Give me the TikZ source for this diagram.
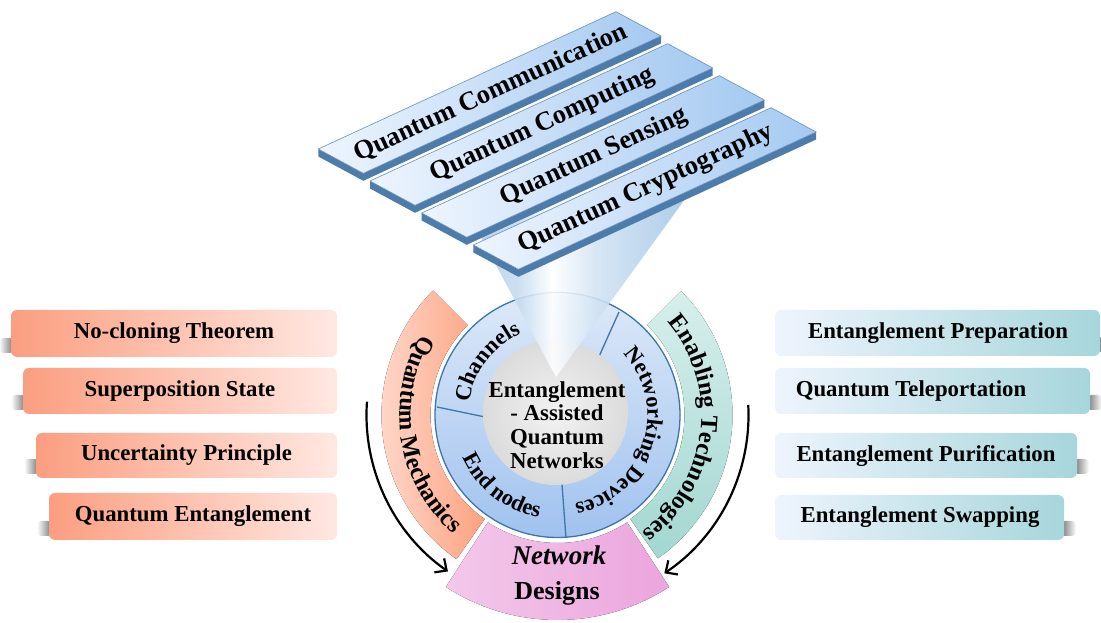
\documentclass[tikz,border=0pt]{standalone}
\usepackage{fontspec}
\setmainfont{Liberation Serif}
\usetikzlibrary{arrows.meta,decorations.text,fadings}
\definecolor{ringTop}{HTML}{DDE9F8}
\definecolor{ringBot}{HTML}{A0C2EF}
\definecolor{ringLine}{HTML}{3E76AC}
\definecolor{orL}{HTML}{FFD8CB}
\definecolor{orR}{HTML}{FCA27F}
\definecolor{grT}{HTML}{D6EFEC}
\definecolor{grB}{HTML}{A3D7D1}
\definecolor{pkL}{HTML}{F3C8EA}
\definecolor{pkR}{HTML}{EBA5DD}
\definecolor{lbL}{HTML}{FB9E80}
\definecolor{lbR}{HTML}{FFE8E2}
\definecolor{rbL}{HTML}{EEF4FD}
\definecolor{rbR}{HTML}{A6D6DB}
\definecolor{barL}{HTML}{EEF5FE}
\definecolor{barR}{HTML}{A4C9F1}
\definecolor{barSide}{HTML}{4D7BAA}
\definecolor{barLine}{HTML}{6891BD}
\definecolor{coneB}{HTML}{A2C5E6}
\pgfdeclarehorizontalshading{coneshade}{100bp}{color(0bp)=(coneB); color(25bp)=(coneB); color(38bp)=(coneB!60); color(45bp)=(white); color(55bp)=(coneB!50); color(75bp)=(coneB); color(100bp)=(coneB)}
\newcommand\boxfnt{\fontsize{22.8}{24}\selectfont\bfseries}
\newcommand\barfnt{\fontsize{26.5}{28}\selectfont\bfseries}
\newcommand\ringfnt{\fontsize{22.5}{24}\selectfont\bfseries}
\newcommand\segfnt{\fontsize{24.5}{26}\selectfont\bfseries}
\newcommand\pinkfnt{\fontsize{26}{28}\selectfont\bfseries}
\newcommand\corefnt{\fontsize{22.8}{23.8}\selectfont\bfseries}
\begin{document}
\begin{tikzpicture}[x=1pt,y=1pt,
  lbox/.style={rounded corners=6pt, left color=lbL, right color=lbR, inner sep=0pt},
  rbox/.style={rounded corners=6pt, left color=rbL, right color=rbR, inner sep=0pt},
  lshadow/.style={black, opacity=.55, path fading=west, rounded corners=4pt},
  rshadow/.style={black, opacity=.55, path fading=east, rounded corners=4pt},
  boxtext/.style={font=\boxfnt, inner sep=0pt},
  turnarrow/.style={line width=2.2pt, -{Straight Barb[length=9pt,width=17pt]}},
  arctext/.style={decorate, decoration={text along path, text align=center, text={#1}}}
]
\useasboundingbox (0,0) rectangle (1101,623);

% outer segments and arrows
\begin{scope}[shift={(557.5,208)}]
  \fill[left color=orL, right color=orR] (135:127) arc[start angle=135,end angle=235,radius=127] -- (235:176) arc[start angle=235,end angle=135,radius=176] -- cycle;
  \fill[top color=grT, bottom color=grB] (45:127) arc[start angle=45,end angle=-55,radius=127] -- (-55:175) arc[start angle=-55,end angle=45,radius=175] -- cycle;
  \fill[left color=pkL, right color=pkR] (-123:128) arc[start angle=-123,end angle=-57,radius=128] -- (-57:205) arc[start angle=-57,end angle=-123,radius=205] -- cycle;
  \draw[turnarrow] (176:191) arc[start angle=176,end angle=235,radius=191];
  \draw[turnarrow] (3:191) arc[start angle=3,end angle=-56,radius=191];
\end{scope}

% ring
\fill[top color=ringTop, bottom color=ringBot] (557.5,208) circle[radius=122.5];
\draw[ringLine, line width=1.3pt] (490,205) -- (437,216);
\draw[ringLine, line width=1.3pt] (597,262) -- (619,311);
\draw[ringLine, line width=1.3pt] (561.5,145) -- (566,85);
\draw[ringLine, line width=1.3pt] (557.5,208) circle[radius=122.5];
\shade[inner color=gray!10, outer color=gray!28] (555.5,210.5) circle[radius=72.5];

% cone
\shade[shading=coneshade, fill opacity=.88] (556,246) -- (461,423) -- (688,428) -- cycle;

% texts on the ring and segments
\begin{scope}[shift={(557.5,208)}]
  \path[arctext={|\ringfnt|Channels}] (188:89) arc[start angle=188,end angle=98,radius=89];
  \path[arctext={|\ringfnt|End nodes}] (187:104) arc[start angle=187,end angle=277,radius=104];
  \path[arctext={|\ringfnt|Networking Devices}] (70:90) arc[start angle=70,end angle=-106,radius=90];
  \path[arctext={|\segfnt|Quantum Mechanics}] (130:158) arc[start angle=130,end angle=248,radius=158];
  \path[arctext={|\segfnt|Enabling Technologies}] (50:144) arc[start angle=50,end angle=-64,radius=144];
\end{scope}
\node[font=\fontsize{27}{29}\selectfont\bfseries\itshape, anchor=base, inner sep=0pt] (nw) at (559,58) {Network};
\node[font=\pinkfnt, anchor=base, inner sep=0pt] (ds) at (557,23) {Designs};
\node[font=\corefnt, align=center, inner sep=0pt] (core) at (557,198) {Entanglement\\- Assisted\\Quantum\\Networks};

% bars
\foreach \i/\t in {0/{Quantum Communication},1/{Quantum Computing},2/{Quantum Sensing},3/{Quantum Cryptography}}{
  \pgfmathsetmacro\ax{318.3+51.7*\i}
  \pgfmathsetmacro\ay{474-32*\i}
  \fill[barSide] (\ax,\ay) -- ++(45,-24.3) -- ++(297.7,137.3) -- ++(0,-7.5) -- ++(-297.7,-137.3) -- ++(-45,24.3) -- cycle;
  \shadedraw[left color=barL, right color=barR, draw=barLine, line width=.6pt] (\ax,\ay) -- ++(297.7,137.3) -- ++(45,-24.3) -- ++(-297.7,-137.3) -- cycle;
  \node[rotate=24.76, font=\barfnt, inner sep=0pt] (bar\i) at ({\ax+172.5},{\ay+56}) {\t};
}

% left boxes
\fill[lshadow] (-1,270) rectangle (14,285);
\fill[lshadow] (11,213) rectangle (26,228);
\fill[lshadow] (24,149) rectangle (39,164);
\fill[lshadow] (37,87) rectangle (52,102);
\node[lbox, minimum width=326pt, minimum height=47pt] (lb1) at (174,289.5) {};
\node[lbox, minimum width=314pt, minimum height=46pt] (lb2) at (180,232) {};
\node[lbox, minimum width=301pt, minimum height=45pt] (lb3) at (186.5,167.5) {};
\node[lbox, minimum width=288pt, minimum height=47pt] (lb4) at (193,106.5) {};
\node[boxtext] (lt1) at (lb1) {No-cloning Theorem};
\node[boxtext] (lt2) at (lb2) {Superposition State};
\node[boxtext] (lt3) at (lb3) {Uncertainty Principle};
\node[boxtext] (lt4) at (lb4) {Quantum Entanglement};

% right boxes
\fill[rshadow] (1097,271) rectangle (1112,286);
\fill[rshadow] (1087,213) rectangle (1102,228);
\fill[rshadow] (1074,149) rectangle (1089,164);
\fill[rshadow] (1061,87) rectangle (1076,102);
\node[rbox, minimum width=325pt, minimum height=46pt] (rb1) at (937.5,290) {};
\node[rbox, minimum width=315pt, minimum height=46pt] (rb2) at (932.5,232) {};
\node[rbox, minimum width=302pt, minimum height=45pt] (rb3) at (926,167.5) {};
\node[rbox, minimum width=289pt, minimum height=45pt] (rb4) at (919.5,105.5) {};
\node[boxtext] (rt1) at (938,290) {Entanglement Preparation};
\node[boxtext] (rt2) at (911,232) {Quantum Teleportation};
\node[boxtext] (rt3) at (926,167.5) {Entanglement Purification};
\node[boxtext] (rt4) at (920,105.5) {Entanglement Swapping};
\end{tikzpicture}
\end{document}
